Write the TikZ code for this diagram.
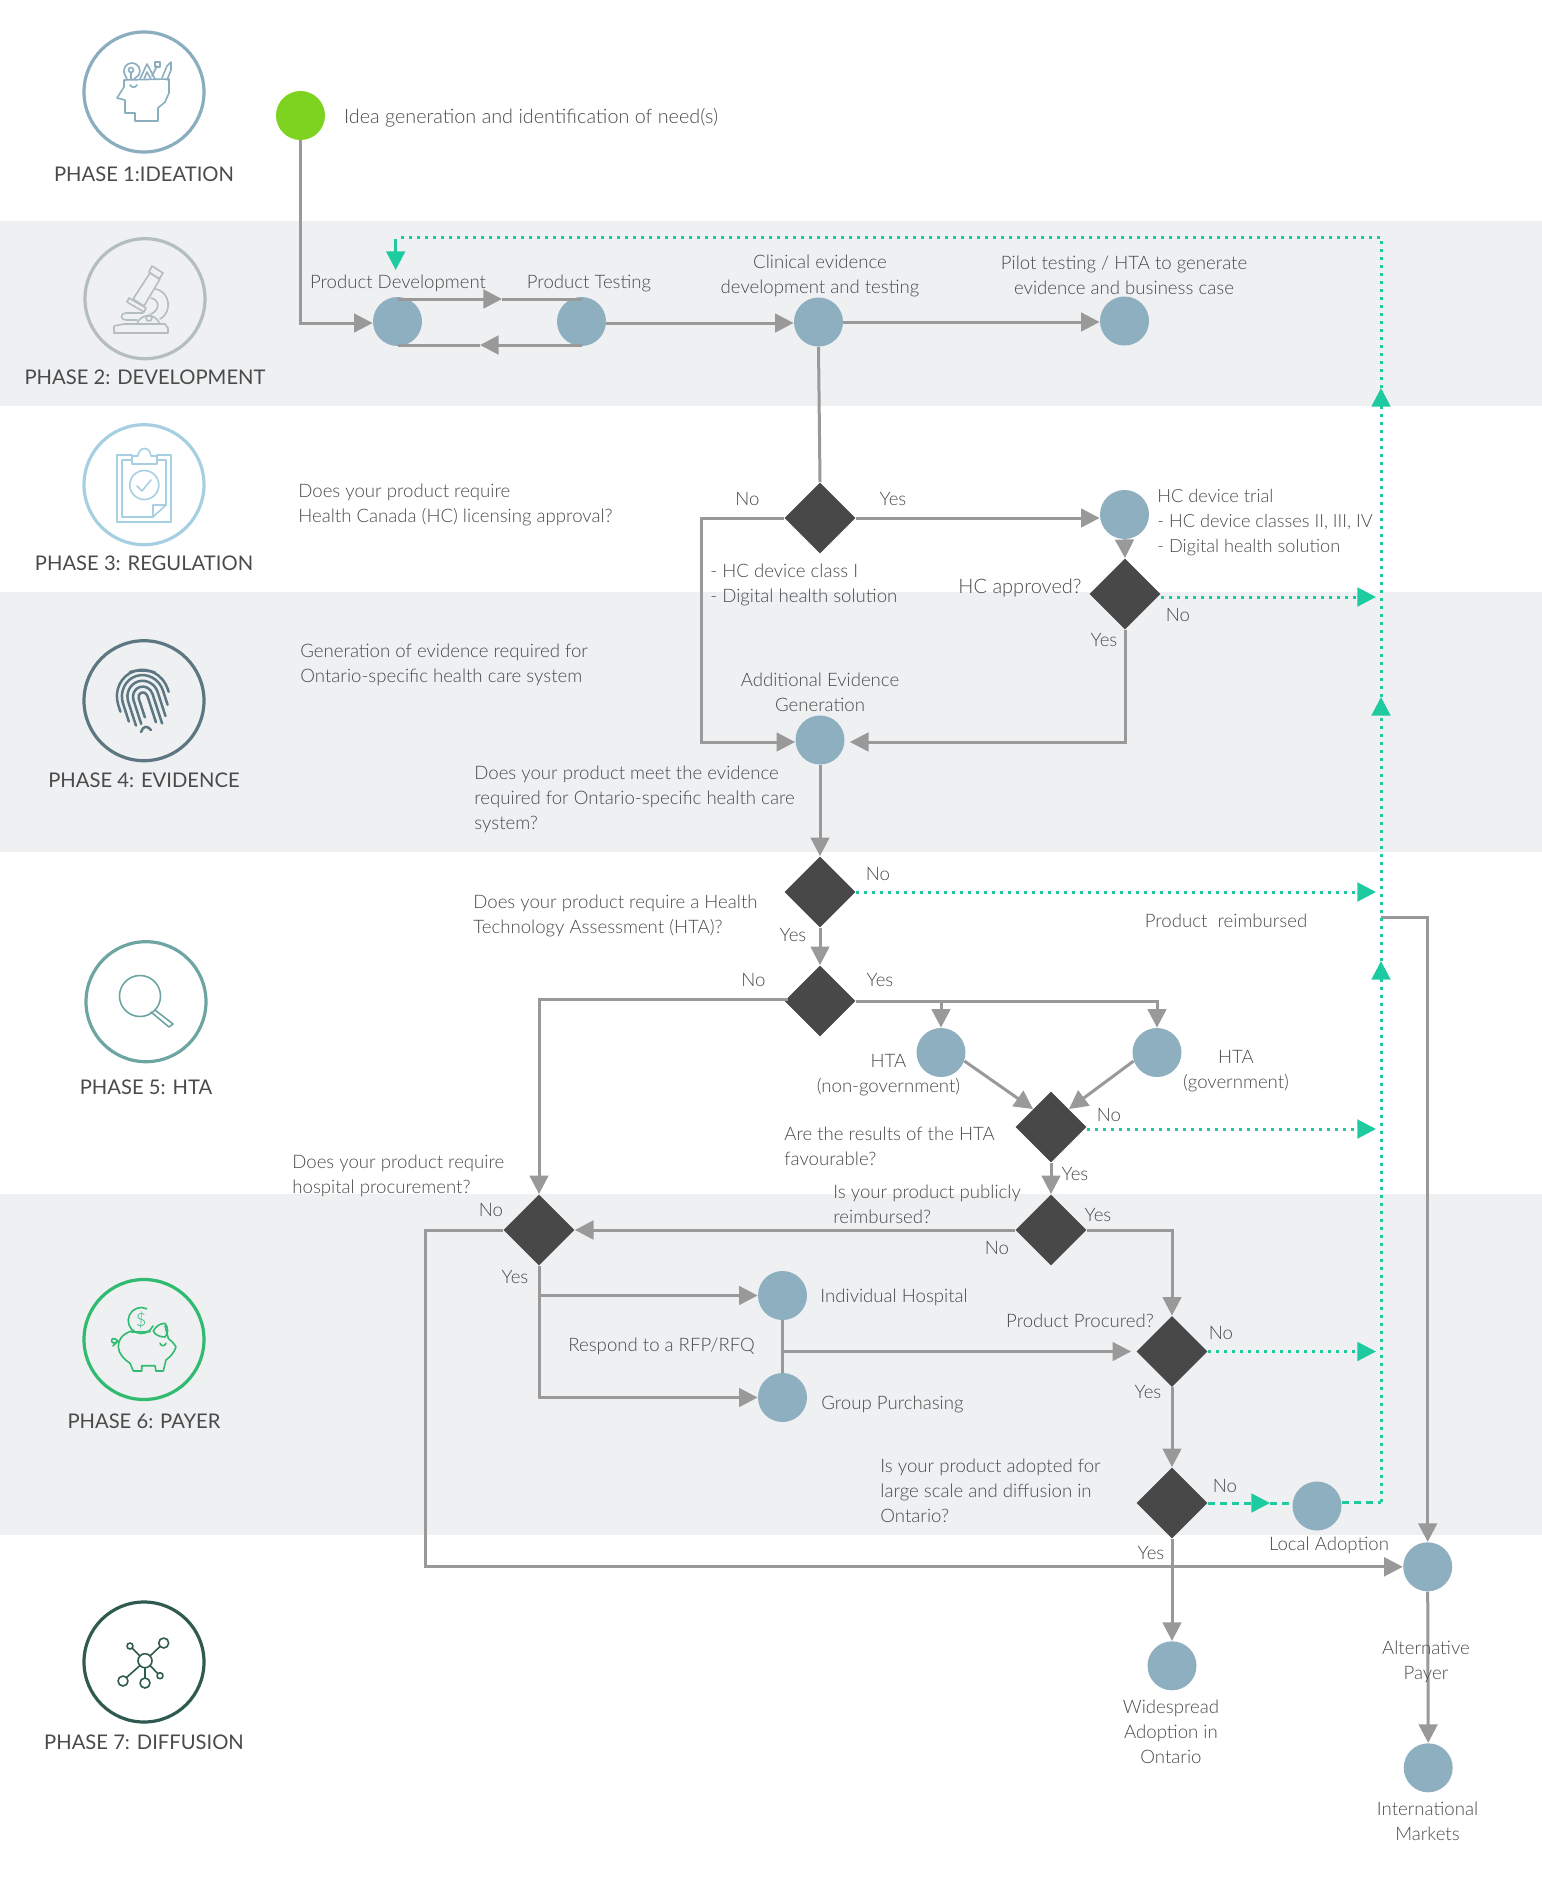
\documentclass[tikz,border=0pt]{standalone}
\usepackage{fontspec}
\setmainfont{Lato}[UprightFont={* Light}]
\newfontfamily\phasefont{Lato}
\usepackage{xcolor}
\usetikzlibrary{arrows.meta,shapes.geometric}

\definecolor{bandgray}{HTML}{EEF0F2}
\definecolor{flowgray}{HTML}{999999}
\definecolor{nodeblue}{HTML}{8DAFC0}
\definecolor{diamondgray}{HTML}{484848}
\definecolor{flowgreen}{HTML}{1ECBA1}
\definecolor{startgreen}{HTML}{7ED321}
\definecolor{textgray}{HTML}{4A4A4A}
\definecolor{ringA}{HTML}{8AAEC0}
\definecolor{ringB}{HTML}{B5BEBF}
\definecolor{ringC}{HTML}{A7CFE2}
\definecolor{ringD}{HTML}{5C7781}
\definecolor{ringE}{HTML}{6CA5A2}
\definecolor{ringF}{HTML}{30BB70}
\definecolor{ringG}{HTML}{2F5A50}

\tikzset{
    tip/.tip={Triangle[length=9.3pt,width=9.3pt]},
    flow/.style={draw=flowgray, line width=1.5pt, line join=miter},
    flowto/.style={flow, -{tip}},
    dotgreen/.style={draw=flowgreen, line width=1.5pt, dash pattern=on 1.5pt off 2.5pt, -{tip}},
    dotplain/.style={draw=flowgreen, line width=1.5pt, dash pattern=on 1.5pt off 2.5pt},
    dashgreen/.style={draw=flowgreen, line width=1.5pt, dash pattern=on 3.5pt off 2.5pt},
    proc/.style={circle, fill=nodeblue, minimum size=24.5pt, inner sep=0pt},
    decide/.style={diamond, fill=diamondgray, shape aspect=1, minimum width=35.5pt, minimum height=35.5pt, inner sep=0pt},
    lbl/.style={text=textgray, inner sep=0pt, align=center, yshift=-0.6pt, font=\fontsize{9.3}{12.5}\selectfont},
    lblleft/.style={lbl, align=left, anchor=west},
    phasetxt/.style={text=textgray, inner sep=0pt, font=\phasefont\fontsize{10.1}{12}\selectfont},
    ring/.style={circle, line width=1.6pt, minimum size=60pt, inner sep=0pt},
    icon/.style={line width=0.8pt, line join=round, line cap=round},
    ridge/.style={icon, ringD, line width=1.25pt}
}

\begin{document}
\begin{tikzpicture}[x=0.5pt, y=-0.5pt]

    \useasboundingbox (0,0) rectangle (1542,1891);

    % Bands
    \fill[bandgray] (0,221) rectangle (1542,405.5);
    \fill[bandgray] (0,592) rectangle (1542,852);
    \fill[bandgray] (0,1194) rectangle (1542,1535);

    % Phase rings and names
    \foreach \n/\cx/\cy/\ly/\col/\txt in {
        1/144/92/174/ringA/PHASE 1:IDEATION,
        2/145/298.7/377/ringB/PHASE 2: DEVELOPMENT,
        3/144/484.7/563/ringC/PHASE 3: REGULATION,
        4/144/700.7/780/ringD/PHASE 4: EVIDENCE,
        5/146/1001.7/1087/ringE/PHASE 5: HTA,
        6/144/1339.5/1421/ringF/PHASE 6: PAYER,
        7/144/1662/1742/ringG/PHASE 7: DIFFUSION} {
        \node[ring, draw=\col] (ring\n) at (\cx,\cy) {};
        \node[phasetxt] (phase\n) at (\cx,\ly) {\txt};
    }

    % Icon 1: head
    \draw[icon, ringA] (124,80) -- (124,87) -- (117,98) -- (125,100) -- (125,113) -- (135,113) -- (135,121)
        -- (158,121) -- (158,108) -- (165,102) -- (169,93) -- (169,79) -- cycle;
    \draw[icon, ringA] (130,85) .. controls (132,88) and (135,88) .. (137,85);
    \draw[icon, ringA] (127,79) -- (125,75) arc[start angle=150, end angle=390, radius=8] -- (134,79);
    \draw[icon, ringA] (131,70) circle (2.5);
    \draw[icon, ringA] (131,72) -- (131,79);
    \draw[icon, ringA] (140,79) -- (147,64) -- (155,79);
    \draw[icon, ringA] (144,79) -- (147,72) -- (151,79);
    \draw[icon, ringA] (152,76) -- (157,66);
    \draw[icon, ringA] (155,62) rectangle (160,67);
    \draw[icon, ringA] (162,78) -- (167,66) -- (171,62) -- (171,70) -- (167,80);

    % Icon 2: microscope
    \draw[icon, ringB] (152,266) -- (163,273) -- (159,279) -- (149,272) -- cycle;
    \draw[icon, ringB] (150,273) -- (160,279) -- (144,306) -- (133,299) -- cycle;
    \draw[icon, ringB] (129,298) -- (146,308) -- (144,312) -- (127,302) -- cycle;
    \draw[icon, ringB] (155,289) .. controls (170,291) and (173,312) .. (160,319);
    \draw[icon, ringB] (151,298) .. controls (160,300) and (160,310) .. (151,314);
    \draw[icon, ringB] (114,333) -- (114,326) -- (124,324) -- (165,324) -- (168,328) -- (168,333) -- cycle;
    \draw[icon, ringB] (137,324) .. controls (140,314) and (155,312) .. (160,324);
    \draw[icon, ringB] (149,318) circle (3);
    \draw[icon, ringB] (143,313) -- (126,313) .. controls (120,313) and (120,320) .. (126,320) -- (137,320);

    % Icon 3: clipboard
    \draw[icon, ringC] (132,455) -- (117,455) -- (117,522) -- (171,522) -- (171,455) -- (157,455);
    \draw[icon, ringC] (132,460) -- (122,460) -- (122,517) -- (153,517) -- (166,505) -- (166,460) -- (157,460);
    \draw[icon, ringC] (132,464) -- (132,456) -- (138,456) .. controls (139,446) and (150,446) .. (151,456) -- (157,456) -- (157,464) -- cycle;
    \draw[icon, ringC] (153,517) -- (153,505) -- (166,505);
    \draw[icon, ringC] (144.3,485) circle (14.5);
    \draw[icon, ringC] (137,486) -- (142,491) -- (151,480);

    % Icon 4: fingerprint
    \begin{scope}[rotate around={18:(143,697)}]
        \foreach \r/\low/\high in {4.5/717/725, 10/722/728, 15.5/722/722, 21/716/712, 26/704/700} {
            \draw[ridge] (143-\r,\low) -- (143-\r,697)
                arc[start angle=180, end angle=360, x radius=\r, y radius=1.05*\r] -- (143+\r,\high);
        }
    \end{scope}
    \draw[ridge] (130,672) .. controls (137,670) and (148,670) .. (155,672.5);
    \draw[ridge] (141,732) .. controls (143,726) and (147,725) .. (151,730);

    % Icon 5: magnifier
    \draw[icon, ringE] (140,996) circle (20.5);
    \draw[icon, ringE] (155,1010) -- (173,1024) -- (169,1027) -- (151,1012);

    % Icon 6: piggy bank
    \draw[icon, ringF] (153,1326) arc[start angle=25, end angle=295, radius=13];
    \node[text=ringF, inner sep=0pt, font=\fontsize{9}{9}\selectfont] (coin) at (141,1320) {\$};
    \draw[icon, ringF] (131.7,1331) .. controls (122,1334) and (118,1340) .. (118.3,1347)
        .. controls (118.5,1354) and (125,1360) .. (130,1363.3) -- (133.3,1371) -- (141.7,1371) -- (141.7,1365.7) -- (155,1365.7)
        -- (156,1371) -- (163.3,1371) -- (166,1360) .. controls (170,1357) and (174,1353) .. (176,1347)
        .. controls (174,1343) and (171,1341) .. (168.3,1338.3) -- (165,1326);
    \draw[icon, ringF] (131.7,1332) -- (150,1331.7);
    \draw[icon, ringF] (153.3,1331) .. controls (156,1326) and (160,1323.5) .. (165,1323.3)
        .. controls (169,1328) and (168,1334) .. (165,1337) .. controls (160,1337) and (155,1335) .. (153.3,1331);
    \draw[icon, ringF] (118.3,1341.7) .. controls (114,1336) and (110,1339) .. (112,1342) .. controls (113,1344) and (117,1342) .. (118,1341)
        (118,1341) -- (113,1346);
    \draw[icon, ringF] (160,1343.3) .. controls (161,1346.5) and (165,1346.5) .. (166,1343.3);

    % Icon 7: network
    \draw[icon, ringG] (145,1660.7) circle (7) (130,1646) circle (3) (163.7,1643) circle (5)
        (160,1675.7) circle (3) (145,1683) circle (5) (123,1681) circle (5);
    \draw[icon, ringG] (140,1656) -- (132,1648) (150,1656) -- (160,1646.5) (150,1665.5) -- (157.8,1673.5)
        (145,1667.7) -- (145,1678) (140,1665.5) -- (126.5,1677.5);

    % Start and process nodes
    \node[proc, fill=startgreen] (start) at (300.5,115.5) {};
    \node[proc] (proddev) at (397.5,321.5) {};
    \node[proc] (prodtest) at (581.5,321.5) {};
    \node[proc] (clinical) at (818.5,322) {};
    \node[proc] (pilot) at (1124.5,321) {};
    \node[proc] (hctrial) at (1124.5,514.5) {};
    \node[proc] (addev) at (820,740) {};
    \node[proc] (htangov) at (941,1052.5) {};
    \node[proc] (htagov) at (1157,1052.5) {};
    \node[proc] (indhosp) at (782.5,1295.5) {};
    \node[proc] (grouppur) at (782.5,1397.5) {};
    \node[proc] (local) at (1317,1506) {};
    \node[proc] (altpayer) at (1427.7,1566.8) {};
    \node[proc] (widespread) at (1172,1665.8) {};
    \node[proc] (intl) at (1428.2,1767.8) {};

    % Decision nodes
    \node[decide] (hcreq) at (820,518) {};
    \node[decide] (hcappr) at (1125,594) {};
    \node[decide] (evmeet) at (820,892) {};
    \node[decide] (htareq) at (820,1001) {};
    \node[decide] (htafav) at (1051,1127) {};
    \node[decide] (pubreimb) at (1051,1230) {};
    \node[decide] (hospreq) at (539,1230) {};
    \node[decide] (procured) at (1172,1351.5) {};
    \node[decide] (adopted) at (1172,1503) {};

    % Free ends
    \coordinate (startbend) at (300.5,323);
    \coordinate (greencorner) at (1381,1502);
    \coordinate (greenupa) at (1381,961);
    \coordinate (greenupb) at (1381,697);
    \coordinate (greenupc) at (1381,388);
    \coordinate (greentop) at (1381,237);
    \coordinate (greenleft) at (400,237);
    \coordinate (greendrop) at (395.7,239);
    \coordinate (greendropend) at (395.7,270);
    \coordinate (localin) at (1270,1503);
    \coordinate (reimbout) at (1381,917);
    \coordinate (hcnobend) at (701.5,518);
    \coordinate (hospleft) at (425.5,1230);
    \coordinate (pushtop) at (397.5,299);
    \coordinate (pushend) at (581.5,299);
    \coordinate (pushmid) at (502,299);
    \coordinate (backtop) at (581.5,345);
    \coordinate (backend) at (397.5,345);
    \coordinate (backmid) at (480,345);
    \coordinate (testout) at (606,323);
    \coordinate (addevin) at (820,742);
    \coordinate (htano) at (788,999);
    \coordinate (hcdot) at (1161,597);
    \coordinate (favdot) at (1087,1129);

    % Grey connectors
    \draw[flowto] (start.south) -- (startbend) -- (startbend -| proddev.west);
    \draw[flowto] (pushtop) -- (pushmid);
    \draw[flow] (pushmid) -- (pushend);
    \draw[flowto] (backtop) -- (backmid);
    \draw[flow] (backmid) -- (backend);
    \draw[flowto] (testout) -- (testout -| clinical.west);
    \draw[flowto] (clinical.east) -- (pilot.west |- clinical.east);
    \draw[flow] (clinical.south) -- (hcreq.north);
    \draw[flowto] (hcreq.east) -- (hcreq.east -| hctrial.west);
    \draw[flowto] (hcreq.west) -- (hcnobend) -- (hcnobend |- addevin) -- (addevin -| addev.west);
    \draw[flowto] (hctrial.south) -- (hcappr.north);
    \draw[flowto, shorten >=2.5pt] (hcappr.south) -- (hcappr.south |- addevin) -- (addevin -| addev.east);
    \draw[flowto] (addev.south) -- (evmeet.north);
    \draw[flowto] (evmeet.south) -- (htareq.north);
    \draw[flowto] (htano) -- (htano -| hospreq.north) -- (hospreq.north);
    \draw[flowto] (htareq.east) -- (htareq.east -| htagov.north) -- (htagov.north);
    \draw[flowto] (htareq.east -| htangov.north) -- (htangov.north);
    \draw[flowto] (htangov.-20) -- (htafav.north west);
    \draw[flowto] (htagov.200) -- (htafav.north east);
    \draw[flowto] (htafav.south) -- (pubreimb.north);
    \draw[flowto] (pubreimb.west) -- (hospreq.east);
    \draw[flowto] (pubreimb.east) -- (pubreimb.east -| procured.north) -- (procured.north);
    \draw[flowto] (hospreq.south) -- (hospreq.south |- indhosp.west) -- (indhosp.west);
    \draw[flowto] (hospreq.south) -- (hospreq.south |- grouppur.west) -- (grouppur.west);
    \draw[flow] (indhosp.south) -- (grouppur.north);
    \draw[flowto, shorten >=2.5pt] (indhosp.south |- procured.west) -- (procured.west);
    \draw[flowto] (procured.south) -- (adopted.north);
    \draw[flowto] (adopted.south) -- (widespread.north);
    \draw[flowto] (hospreq.west) -- (hospleft) -- (hospleft |- altpayer.west) -- (altpayer.west);
    \draw[flowto] (reimbout) -- (reimbout -| altpayer.north) -- (altpayer.north);
    \draw[flowto] (altpayer.south) -- (intl.north);

    % Green connectors
    \draw[dashgreen, -{tip}] (adopted.east) -- (localin);
    \draw[dashgreen] (localin) -- (localin -| local.west);
    \draw[dashgreen] (greencorner -| local.east) -- (greencorner);
    \draw[dotgreen] (greencorner) -- (greenupa);
    \draw[dotgreen] (greenupa) -- (greenupb);
    \draw[dotgreen] (greenupb) -- (greenupc);
    \draw[dotplain] (greenupc) -- (greentop) -- (greenleft);
    \draw[draw=flowgreen, line width=1.5pt, -{tip}] (greendrop) -- (greendropend);
    \draw[dotgreen, shorten >=2.5pt] (hcdot) -- (hcdot -| greencorner);
    \draw[dotgreen, shorten >=2.5pt] (evmeet.east) -- (evmeet.east -| greencorner);
    \draw[dotgreen, shorten >=2.5pt] (favdot) -- (favdot -| greencorner);
    \draw[dotgreen, shorten >=2.5pt] (procured.east) -- (procured.east -| greencorner);

    % Process labels
    \node[lblleft, font=\fontsize{9.9}{12.5}\selectfont] (ideatxt) at (343.6,117) {Idea generation and identification of need(s)};
    \node[lbl] (proddevtxt) at (398,282) {Product Development};
    \node[lbl] (prodtesttxt) at (589,282) {Product Testing};
    \node[lbl] (clinicaltxt) at (820,274.5) {Clinical evidence\\development and testing};
    \node[lbl] (pilottxt) at (1124,274.5) {Pilot testing / HTA to generate\\evidence and business case};
    \node[lblleft, font=\fontsize{9.1}{12.5}\selectfont] (hctrialtxt) at (1157,521) {HC device trial\\- HC device classes II, III, IV\\- Digital health solution};
    \node[lbl] (addevtxt) at (820,691.5) {Additional Evidence\\Generation};
    \node[lbl] (nongovtxt) at (888.5,1074) {HTA\\(non-government)};
    \node[lbl] (govtxt) at (1236,1070) {HTA\\(government)};
    \node[lblleft] (indhosptxt) at (820,1296) {Individual Hospital};
    \node[lblleft] (grouptxt) at (821,1403) {Group Purchasing};
    \node[lblleft] (rfptxt) at (568,1345) {Respond to a RFP/RFQ};
    \node[lbl] (localtxt) at (1329,1544) {Local Adoption};
    \node[lbl] (alttxt) at (1426,1660.5) {Alternative\\Payer};
    \node[lbl] (widetxt) at (1171,1731) {Widespread\\Adoption in\\Ontario};
    \node[lbl] (intltxt) at (1427.5,1820.5) {International\\Markets};
    \node[lbl] (reimbtxt) at (1226,920) {Product\ \ reimbursed};

    % Question labels
    \node[lblleft] (q1) at (298,503.5) {Does your product require\\Health Canada (HC) licensing approval?};
    \node[lblleft] (q2) at (710,584) {- HC device class I\\- Digital health solution};
    \node[lbl, font=\fontsize{10}{12.5}\selectfont] (q3) at (1020,587) {HC approved?};
    \node[lblleft] (q4) at (300,663.5) {Generation of evidence required for\\Ontario-specific health care system};
    \node[lblleft] (q5) at (474,798) {Does your product meet the evidence\\required for Ontario-specific health care\\system?};
    \node[lblleft] (q6) at (473,914.5) {Does your product require a Health\\Technology Assessment (HTA)?};
    \node[lblleft] (q7) at (784,1145) {Are the results of the HTA\\favourable?};
    \node[lblleft] (q8) at (292,1174.5) {Does your product require\\hospital procurement?};
    \node[lblleft] (q9) at (833,1203.5) {Is your product publicly\\reimbursed?};
    \node[lbl] (q10) at (1080,1320) {Product Procured?};
    \node[lblleft] (q11) at (880,1490) {Is your product adopted for\\large scale and diffusion in\\Ontario?};

    % Yes and No
    \foreach \n/\lx/\ly/\word in {
        a/747.5/498/No, b/893/498/Yes, c/1178/614/No, d/1104/639/Yes,
        e/878/873/No, f/793/934/Yes, g/753.5/979/No, h/880/979/Yes,
        i/1109/1114/No, j/1075/1173/Yes, k/491/1209/No, l/515/1275.5/Yes,
        m/1098/1214/Yes, o/997/1246.5/No, p/1221/1332/No, q/1148/1391/Yes,
        r/1225/1485/No, s/1151/1552/Yes} {
        \node[lbl] (ans\n) at (\lx,\ly) {\word};
    }

\end{tikzpicture}
\end{document}
